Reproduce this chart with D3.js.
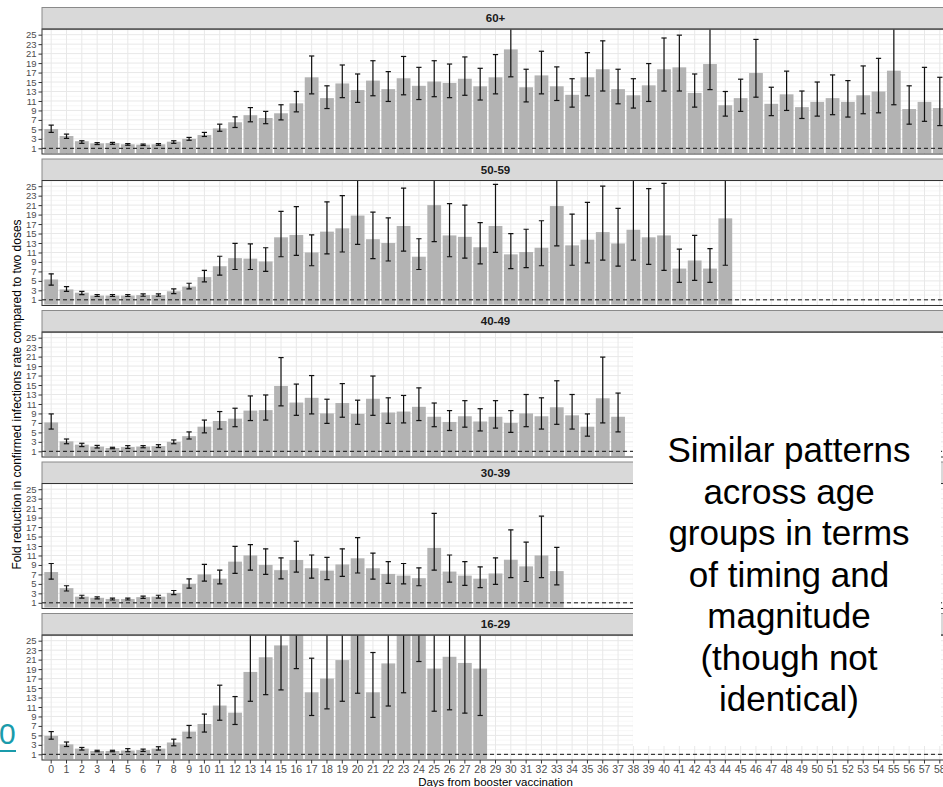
<!DOCTYPE html>
<html>
<head>
<meta charset="utf-8">
<script src="https://cdn.jsdelivr.net/npm/d3@7/dist/d3.min.js"></script>
<style>
  body { margin: 0; background: #fff; overflow: hidden; }
  svg { display: block; font-family: "Liberation Sans", Arial, sans-serif; }
</style>
</head>
<body>
<svg id="chart" width="943" height="787"></svg>
<script>
// days from booster (x categories)
var days = [0,1,2,3,4,5,6,7,8,9,10,11,12,13,14,15,16,17,18,19,20,21,22,23,24,25,26,27,28,29,
            30,31,32,33,34,35,36,37,38,39,40,41,42,43,44,45,46,47,48,49,50,51,52,53,54,55,56,57,58];
var groups = ["60+", "50-59", "40-49", "30-39", "16-29"];
var yTicks = [1,3,5,7,9,11,13,15,17,19,21,23,25];
var yMinor = [0,2,4,6,8,10,12,14,16,18,20,22,24,26];

// fold reduction estimate, lower and upper CI per age group
var est60 = [5.06,3.6,2.5,2.05,2.1,1.85,1.77,1.85,2.4,3.0,3.8,5.2,6.5,8.0,7.4,8.4,10.5,16.0,11.6,14.7,13.3,15.3,13.5,15.8,14.2,15.1,14.8,15.7,14.1,16.0,
             21.9,13.9,16.4,14.1,12.3,16.0,17.7,13.5,12.2,14.3,17.7,18.1,12.7,18.8,10.1,11.6,16.9,10.4,12.4,9.7,10.8,11.6,10.8,12.2,13.0,17.4,9.3,10.8,9.5];
var lo60  = [4.36,3.1,2.05,1.8,1.85,1.65,1.6,1.65,2.05,2.7,3.5,4.6,5.4,6.6,6.2,7.0,8.7,12.5,9.4,11.7,10.7,12.1,10.9,12.3,11.3,11.9,11.7,12.2,11.2,12.5,
             16.1,10.8,12.5,11.1,9.7,12.1,13.1,10.4,9.5,10.9,13.1,13.1,9.7,13.4,7.8,8.8,11.8,7.9,9.0,7.3,7.8,8.1,7.6,8.3,8.5,10.2,6.1,6.7,5.8];
var hi60  = [5.9,4.0,2.6,2.2,2.25,2.0,1.9,2.0,2.6,3.3,4.36,6.1,7.65,9.6,8.8,10.2,13.0,20.5,14.2,18.6,16.7,19.5,17.2,20.4,18.1,19.5,18.8,20.3,17.9,20.8,
             29.0,17.7,21.5,18.2,15.7,21.2,23.7,17.7,15.7,18.9,24.3,24.9,16.7,27.5,13.0,15.6,24.0,13.9,17.3,13.1,15.0,16.5,15.3,18.4,20.0,27.0,14.2,18.1,16.0];

var est50 = [5.3,3.2,2.5,1.9,1.9,1.9,2.0,2.0,2.8,3.8,5.8,8.1,9.8,9.7,9.1,14.2,14.7,11.0,15.4,16.1,18.8,13.8,13.0,16.6,10.1,21.0,14.6,14.3,12.1,16.6,
             10.6,11.1,12.0,20.8,12.5,13.7,15.3,12.9,15.8,14.2,14.6,7.6,9.3,7.6,18.2];
var lo50  = [4.1,2.8,2.1,1.7,1.7,1.7,1.75,1.75,2.3,3.3,4.8,6.2,7.4,7.4,7.0,10.1,10.4,8.2,10.7,11.1,12.7,9.7,9.2,11.3,7.4,13.3,10.1,9.8,8.6,11.0,
             7.6,7.8,8.2,12.4,8.3,8.8,9.4,8.1,9.4,8.5,7.2,4.7,5.1,4.7,8.3];
var hi50  = [6.5,3.8,2.8,2.1,2.1,2.1,2.25,2.25,3.3,4.5,7.2,10.2,12.9,12.8,12.0,19.7,20.7,14.7,21.7,23.0,28.0,19.5,18.3,24.6,13.9,30.0,21.3,21.0,17.3,25.4,
             15.0,15.9,17.7,29.0,19.1,21.6,25.0,20.3,28.0,24.5,25.6,11.7,14.6,11.8,30.0];

var est40 = [7.1,3.1,2.4,2.0,1.7,1.9,2.0,2.1,3.0,4.2,6.2,7.4,7.9,9.6,9.7,14.8,11.3,12.3,9.0,11.2,8.9,12.1,9.2,9.4,10.4,8.3,7.2,8.4,7.3,8.3,
             7.0,9.0,8.4,10.3,8.6,6.2,12.2,8.3];
var lo40  = [5.7,2.6,2.0,1.7,1.55,1.6,1.75,1.8,2.6,3.6,4.9,5.7,6.2,7.5,7.6,10.6,8.6,8.9,6.9,8.2,6.7,8.6,6.9,7.0,7.5,6.2,5.4,6.1,5.3,5.9,
             5.0,6.2,5.7,6.7,5.7,4.2,7.0,5.1];
var hi40  = [8.9,3.6,2.7,2.25,1.85,2.2,2.2,2.4,3.4,5.1,7.6,9.4,10.1,12.7,12.9,20.8,15.2,17.0,12.0,15.3,11.8,16.9,12.3,12.8,14.4,11.2,9.6,11.7,10.0,11.7,
             9.6,13.0,12.3,15.9,13.0,8.9,20.9,13.3];

var est30 = [7.5,4.1,2.3,2.05,1.8,1.8,2.2,2.3,3.1,5.0,7.0,6.1,9.7,11.0,9.0,7.9,10.05,8.3,7.8,9.1,10.4,8.3,7.1,6.75,6.2,12.6,7.6,6.75,6.1,7.2,
             10.1,8.7,11.0,7.7];
var lo30  = [6.0,3.5,2.0,1.85,1.6,1.6,1.95,2.0,2.75,4.1,5.6,5.0,7.2,7.9,7.0,6.05,7.5,6.2,5.9,6.6,7.3,6.0,5.1,5.0,4.6,7.9,5.35,4.7,4.2,4.9,
             6.3,5.5,6.3,4.8];
var hi30  = [9.3,4.6,2.6,2.25,2.0,2.0,2.4,2.6,3.6,6.05,9.1,7.9,12.9,13.3,12.4,10.5,14.0,11.1,10.6,12.4,14.75,11.5,9.7,9.3,8.4,19.9,11.1,9.7,8.6,10.5,
             16.4,13.8,19.3,12.7];

var est16 = [4.9,3.1,2.2,1.7,1.7,1.8,1.9,2.2,3.5,5.8,7.4,11.3,9.8,18.4,21.5,24.0,28.0,14.1,17.0,20.9,28.5,14.1,20.2,29.0,33.0,19.1,21.6,20.3,19.1];
var lo16  = [4.2,2.65,1.9,1.55,1.55,1.55,1.6,1.9,2.8,4.5,5.7,8.2,7.3,12.2,13.6,14.6,19.1,9.2,10.6,12.2,13.9,8.8,11.2,14.0,20.6,10.1,10.4,9.7,9.2];
var hi16  = [5.8,3.6,2.45,1.85,1.85,2.2,2.1,2.6,4.2,7.1,9.5,15.6,13.2,30,33,38,40,21.3,28,36,42,22.5,35,45,50,38,40,38,40];

var panelData = [
  [est60, lo60, hi60],
  [est50, lo50, hi50],
  [est40, lo40, hi40],
  [est30, lo30, hi30],
  [est16, lo16, hi16]
];

var svg = d3.select("#chart");

var left = 42, right = 949;
var top0 = 7.5, pitch = 151.5, stripH = 21.5, plotH = 125;

var x = d3.scaleBand()
    .domain(days)
    .range([left, right])
    .paddingInner(0.1)
    .paddingOuter(0.15);

var cx = function(d) { return x(d) + x.bandwidth() / 2; };
var capW = x.bandwidth() * 0.19;

groups.forEach(function(g, i) {
  var stripTop = top0 + i * pitch;
  var pTop = stripTop + stripH;
  var pBot = pTop + plotH;

  var y = d3.scaleLinear().domain([-0.2, 26.2]).range([pBot, pTop]);

  var panel = svg.append("g").attr("class", "panel");

  // clip for marks that run past the top
  svg.append("clipPath").attr("id", "clip" + i)
    .append("rect")
      .attr("x", left).attr("y", pTop)
      .attr("width", right - left).attr("height", plotH);

  panel.append("rect")
      .attr("x", left).attr("y", pTop)
      .attr("width", right - left).attr("height", plotH)
      .attr("fill", "#fff");

  // grid
  panel.selectAll(".minor").data(yMinor).enter().append("line")
      .attr("x1", left).attr("x2", right)
      .attr("y1", function(d) { return y(d); }).attr("y2", function(d) { return y(d); })
      .attr("stroke", "#f2f2f2").attr("stroke-width", 0.6);
  panel.selectAll(".major").data(yTicks).enter().append("line")
      .attr("x1", left).attr("x2", right)
      .attr("y1", function(d) { return y(d); }).attr("y2", function(d) { return y(d); })
      .attr("stroke", "#e8e8e8").attr("stroke-width", 1);
  panel.selectAll(".vgrid").data(days).enter().append("line")
      .attr("x1", cx).attr("x2", cx)
      .attr("y1", pTop).attr("y2", pBot)
      .attr("stroke", "#e8e8e8").attr("stroke-width", 1);

  var est = panelData[i][0], lo = panelData[i][1], hi = panelData[i][2];
  var rows = est.map(function(v, k) { return {day: days[k], est: v, lo: lo[k], hi: hi[k]}; });

  var marks = panel.append("g").attr("clip-path", "url(#clip" + i + ")");

  marks.selectAll(".bar").data(rows).enter().append("rect")
      .attr("x", function(d) { return x(d.day); })
      .attr("width", x.bandwidth())
      .attr("y", function(d) { return y(d.est); })
      .attr("height", function(d) { return y(0) - y(d.est); })
      .attr("fill", "#b3b3b3");

  // reference line at 1
  marks.append("line")
      .attr("x1", left).attr("x2", right)
      .attr("y1", y(1)).attr("y2", y(1))
      .attr("stroke", "#111").attr("stroke-width", 1)
      .attr("stroke-dasharray", "4,3");

  var eb = marks.selectAll(".eb").data(rows).enter().append("g")
      .attr("stroke", "#111").attr("stroke-width", 1.2);
  eb.append("line")
      .attr("x1", function(d) { return cx(d.day); }).attr("x2", function(d) { return cx(d.day); })
      .attr("y1", function(d) { return y(d.lo); }).attr("y2", function(d) { return y(d.hi); });
  eb.append("line")
      .attr("x1", function(d) { return cx(d.day) - capW; }).attr("x2", function(d) { return cx(d.day) + capW; })
      .attr("y1", function(d) { return y(d.lo); }).attr("y2", function(d) { return y(d.lo); });
  eb.append("line")
      .attr("x1", function(d) { return cx(d.day) - capW; }).attr("x2", function(d) { return cx(d.day) + capW; })
      .attr("y1", function(d) { return y(d.hi); }).attr("y2", function(d) { return y(d.hi); });

  // panel border
  panel.append("rect")
      .attr("x", left).attr("y", pTop)
      .attr("width", right - left).attr("height", plotH)
      .attr("fill", "none").attr("stroke", "#333").attr("stroke-width", 1);

  // strip
  panel.append("rect")
      .attr("x", left).attr("y", stripTop)
      .attr("width", right - left).attr("height", stripH)
      .attr("fill", "#d9d9d9").attr("stroke", "#8a8a8a").attr("stroke-width", 1);
  panel.append("line")
      .attr("x1", left).attr("x2", right).attr("y1", pTop).attr("y2", pTop)
      .attr("stroke", "#333").attr("stroke-width", 1);
  panel.append("text")
      .attr("x", (left + right) / 2).attr("y", stripTop + stripH / 2 + 4)
      .attr("text-anchor", "middle")
      .attr("font-size", "11.5px").attr("font-weight", "bold")
      .attr("fill", "#1a1a1a")
      .text(g);

  // y axis
  var ya = panel.append("g")
      .attr("transform", "translate(" + left + ",0)")
      .call(d3.axisLeft(y).tickValues(yTicks).tickSize(3.5).tickPadding(2));
  ya.select(".domain").remove();
  ya.selectAll(".tick line").attr("stroke", "#333");
  ya.selectAll(".tick text").attr("fill", "#4d4d4d")
      .attr("font-size", "9.5px").attr("font-family", "Liberation Sans, Arial, sans-serif");

  if (i === groups.length - 1) {
    var xa = panel.append("g")
        .attr("transform", "translate(0," + pBot + ")")
        .call(d3.axisBottom(x).tickSize(3.5).tickPadding(2));
    xa.select(".domain").remove();
    xa.selectAll(".tick line").attr("stroke", "#333");
    xa.selectAll(".tick text").attr("fill", "#4d4d4d")
        .attr("font-size", "10.5px").attr("font-family", "Liberation Sans, Arial, sans-serif");
  }
});

// axis titles
var yMid = (top0 + stripH + top0 + 4 * pitch + stripH + plotH) / 2;
svg.append("text")
    .attr("transform", "translate(21," + yMid + ") rotate(-90)")
    .attr("text-anchor", "middle")
    .attr("font-size", "12px")
    .attr("fill", "#000")
    .text("Fold reduction in confirmed infections rate compared to two doses");

svg.append("text")
    .attr("x", (left + right) / 2).attr("y", 786)
    .attr("text-anchor", "middle")
    .attr("font-size", "11.5px")
    .attr("fill", "#000")
    .text("Days from booster vaccination");

// slide overlay: white text box
svg.append("rect")
    .attr("x", 633).attr("y", 333)
    .attr("width", 308).attr("height", 413)
    .attr("fill", "#fff");

var note = ["Similar patterns", "across age", "groups in terms", "of timing and", "magnitude", "(though not", "identical)"];
svg.append("g").selectAll("text").data(note).enter().append("text")
    .attr("x", 789)
    .attr("y", function(d, k) { return 462 + k * 41.5; })
    .attr("text-anchor", "middle")
    .attr("font-size", "35px")
    .attr("fill", "#000")
    .text(function(d) { return d; });

// cut-off link at left edge
svg.append("text")
    .attr("x", -1).attr("y", 744)
    .attr("font-size", "30px")
    .attr("fill", "#1a9bab")
    .text("0");
svg.append("line")
    .attr("x1", 0).attr("x2", 16).attr("y1", 751).attr("y2", 751)
    .attr("stroke", "#1a9bab").attr("stroke-width", 2);
</script>
</body>
</html>
